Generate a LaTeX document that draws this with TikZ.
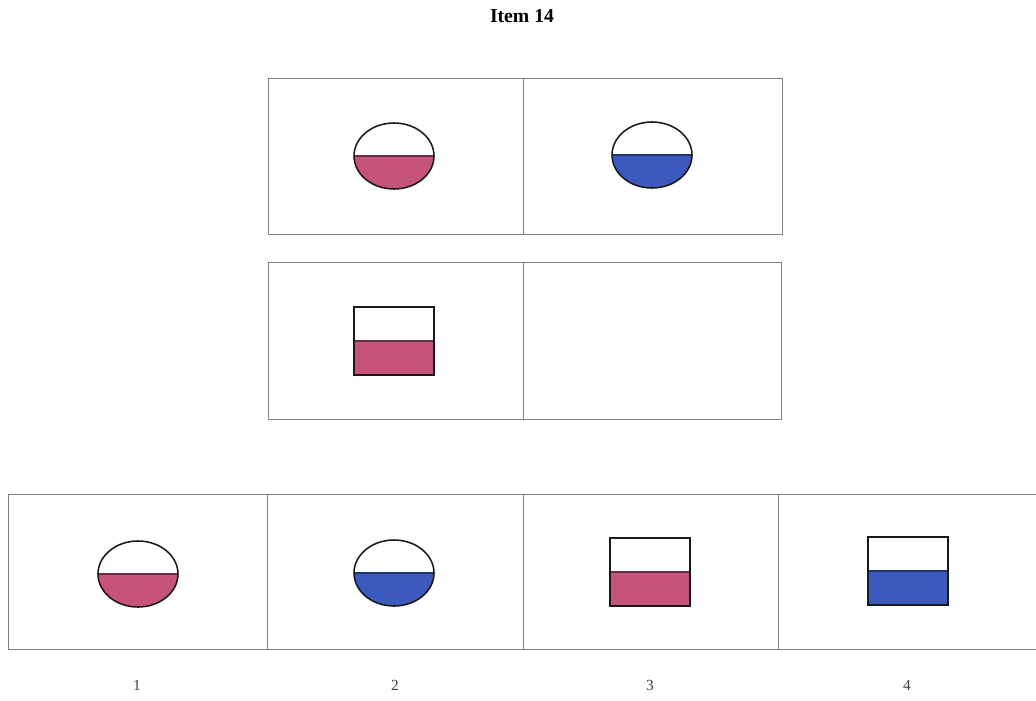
\documentclass[tikz,border=0pt]{standalone}
\usepackage{fontspec}
\setmainfont{Liberation Serif}
\definecolor{rosefill}{HTML}{C65479}
\definecolor{bluefill}{HTML}{3C5ABE}
% half filled figures, centre (#1,#2), fill colour #3
\newcommand{\halfoval}[3]{%
  \begin{scope}[shift={(#1,#2)}]
    \fill[#3] (-40,0) arc[start angle=180,end angle=360,x radius=40,y radius=33] -- cycle;
    \draw[#3!55!black,line width=1pt] (-40,0) -- (40,0);
    \draw[shapeline] (0,0) ellipse [x radius=40,y radius=33];
  \end{scope}}
\newcommand{\halfbox}[3]{%
  \begin{scope}[shift={(#1,#2)}]
    \fill[#3] (-40,-34) rectangle (40,0);
    \draw[#3!55!black,line width=1pt] (-40,0) -- (40,0);
    \draw[shapeline] (-40,-34) rectangle (40,34);
  \end{scope}}
\begin{document}
\begin{tikzpicture}[x=0.025cm,y=0.025cm,
    cellline/.style={draw=black!50,line width=0.7pt},
    shapeline/.style={draw=black!90,line width=1.1pt},
    choicelabel/.style={font=\fontsize{11}{13}\selectfont,text=black!75}]
    \useasboundingbox (0,0) rectangle (1036,700);
    \clip (0,0) rectangle (1036,700);
    \node[font=\bfseries\fontsize{14}{16}\selectfont] (title) at (522,684) {Item 14};
    % matrix
    \draw[cellline] (268,466) rectangle (782,622);
    \draw[cellline] (523,466) -- (523,622);
    \draw[cellline] (268,281) rectangle (781,438);
    \draw[cellline] (523,281) -- (523,438);
    \halfoval{394}{544}{rosefill}
    \halfoval{652}{545}{bluefill}
    \halfbox{394}{359}{rosefill}
    % choices
    \draw[cellline] (8,51) rectangle (1045,206);
    \foreach \xd in {267,523,778}
        \draw[cellline] (\xd,51) -- (\xd,206);
    \halfoval{138}{126}{rosefill}
    \halfoval{394}{127}{bluefill}
    \halfbox{650}{128}{rosefill}
    \halfbox{908}{129}{bluefill}
    \foreach \n/\xl in {1/137,2/395,3/650,4/907}
        \node[choicelabel] (lab\n) at (\xl,15) {\n};
\end{tikzpicture}
\end{document}
